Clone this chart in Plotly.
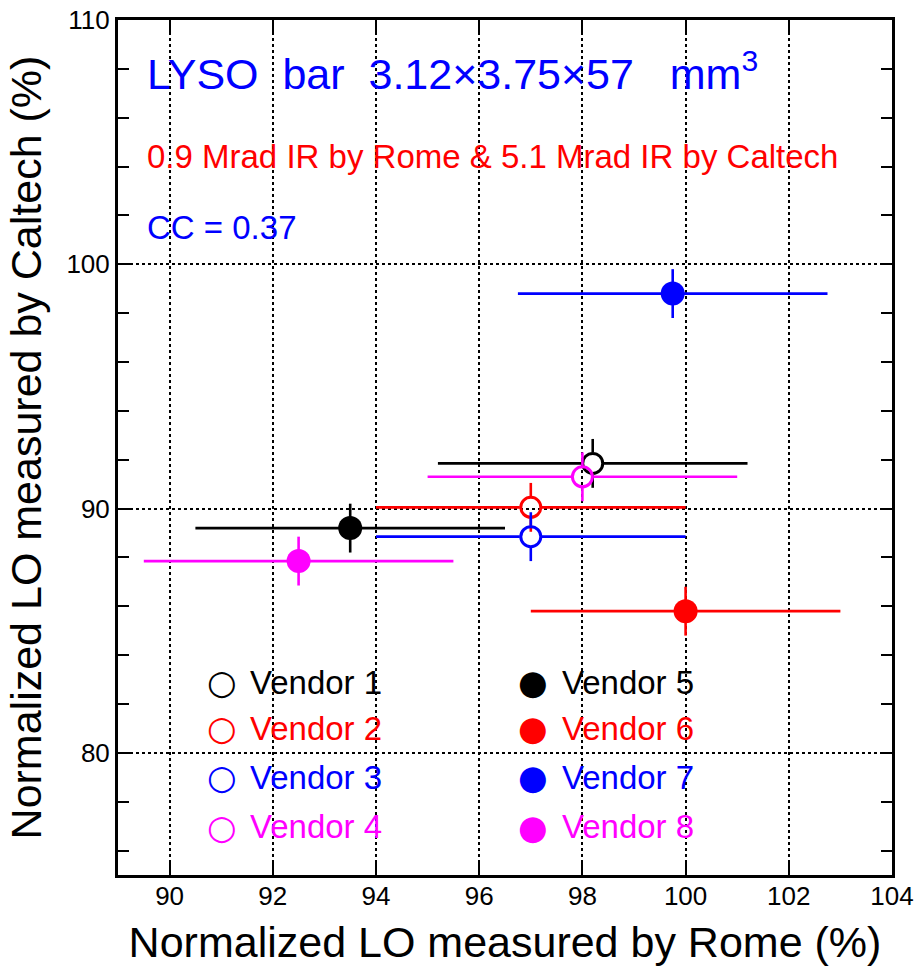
import plotly.graph_objects as go

# ---------------- data ----------------
vendors = ["Vendor 1", "Vendor 2", "Vendor 3", "Vendor 4",
           "Vendor 5", "Vendor 6", "Vendor 7", "Vendor 8"]
rome_lo = [98.2, 97.0, 97.0, 98.0, 93.5, 100.0, 99.75, 92.5]
caltech_lo = [91.85, 90.05, 88.85, 91.3, 89.2, 85.8, 98.8, 87.85]
rome_err = [3.0, 3.0, 3.0, 3.0, 3.0, 3.0, 3.0, 3.0]
caltech_err = [1.0, 1.0, 1.0, 1.0, 1.0, 1.0, 1.0, 1.0]
vendor_colors = ["#000000", "#ff0000", "#0000ff", "#ff00ff",
                 "#000000", "#ff0000", "#0000ff", "#ff00ff"]
vendor_filled = [False, False, False, False, True, True, True, True]

x_ticks = [90, 92, 94, 96, 98, 100, 102, 104]
y_ticks = [80, 90, 100, 110]

title_text = "LYSO  bar  3.12×3.75×57   mm<sup>3</sup>"
dose_text = "0.9 Mrad IR by Rome &amp; 5.1 Mrad IR by Caltech"
cc_text = "CC = 0.37"
x_title = "Normalized LO measured by Rome (%)"
y_title = "Normalized LO measured by Caltech (%)"

# ---------------- layout constants ----------------
W, H = 914, 966
ML, MR, MT, MB = 118, 22, 20, 91
X_RANGE = [89, 104]
Y_RANGE = [75, 110]
FONT = "Liberation Sans, Arial, sans-serif"
SYM_FONT = "DejaVu Sans, sans-serif"
MARKER_R_PX = 11.0  # radius where error bar stops (open markers)

px_per_x = (W - ML - MR) / (X_RANGE[1] - X_RANGE[0])
px_per_y = (H - MT - MB) / (Y_RANGE[1] - Y_RANGE[0])
gap_x = MARKER_R_PX / px_per_x
gap_y = MARKER_R_PX / px_per_y

fig = go.Figure()

for name, x, y, ex, ey, col, filled in zip(vendors, rome_lo, caltech_lo,
                                            rome_err, caltech_err,
                                            vendor_colors, vendor_filled):
    # error bars, drawn as segments that stop at the marker edge
    bx = [x - ex, x - gap_x, None, x + gap_x, x + ex, None,
          x, x, None, x, x]
    by = [y, y, None, y, y, None,
          y - ey, y - gap_y, None, y + gap_y, y + ey]
    fig.add_trace(go.Scatter(x=bx, y=by, mode="lines",
                             line=dict(color=col, width=2.6),
                             showlegend=False, hoverinfo="skip"))
    if filled:
        marker = dict(symbol="circle", size=24, color=col,
                      line=dict(width=0))
    else:
        marker = dict(symbol="circle-open", size=20, color=col,
                      line=dict(width=3, color=col))
    fig.add_trace(go.Scatter(x=[x], y=[y], mode="markers", name=name,
                             marker=marker, showlegend=False))

# ---------------- legend (two columns of text) ----------------
leg_sym_x = [91.02, 97.04]
leg_txt_x = [91.52, 97.57]
leg_row_y = [82.9, 81.0, 79.0, 76.97]
for i, (name, col, filled) in enumerate(zip(vendors, vendor_colors, vendor_filled)):
    c = 1 if filled else 0
    r = i % 4
    fig.add_annotation(x=leg_sym_x[c], y=leg_row_y[r], xref="x", yref="y",
                       text="●" if filled else "○", showarrow=False,
                       xanchor="center", yanchor="middle",
                       font=dict(family=SYM_FONT, size=34, color=col))
    fig.add_annotation(x=leg_txt_x[c], y=leg_row_y[r], xref="x", yref="y",
                       text=name, showarrow=False,
                       xanchor="left", yanchor="middle",
                       font=dict(family=FONT, size=33, color=col))

# ---------------- text labels ----------------
fig.add_annotation(x=0.035, y=0.940, xref="paper", yref="paper",
                   text=title_text, showarrow=False,
                   xanchor="left", yanchor="middle",
                   font=dict(family=FONT, size=43, color="#0000ff"))
fig.add_annotation(x=0.035, y=0.840, xref="paper", yref="paper",
                   text=dose_text, showarrow=False,
                   xanchor="left", yanchor="middle",
                   font=dict(family=FONT, size=33, color="#ff0000"))
fig.add_annotation(x=0.035, y=0.757, xref="paper", yref="paper",
                   text=cc_text, showarrow=False,
                   xanchor="left", yanchor="middle",
                   font=dict(family=FONT, size=33, color="#0000ff"))

axis_common = dict(
    showline=True, linewidth=3, linecolor="black", mirror="ticks",
    ticks="inside", ticklen=12, tickwidth=2, tickcolor="black",
    showgrid=True, gridcolor="black", griddash="dot", gridwidth=1.5,
    zeroline=False, tickfont=dict(family=FONT, size=26, color="black"),
)

fig.update_xaxes(range=X_RANGE, tickvals=x_ticks, ticklabelstandoff=-4,
                 title=dict(text=x_title, standoff=18,
                            font=dict(family=FONT, size=43, color="black")),
                 **axis_common)
fig.update_yaxes(range=Y_RANGE, tickvals=y_ticks,
                 minor=dict(dtick=2, tick0=0, ticks="inside", ticklen=11,
                            tickwidth=2, tickcolor="black", showgrid=False),
                 title=dict(text=y_title, standoff=12,
                            font=dict(family=FONT, size=43, color="black")),
                 **axis_common)

fig.update_layout(width=W, height=H,
                  margin=dict(l=ML, r=MR, t=MT, b=MB, autoexpand=False),
                  paper_bgcolor="white", plot_bgcolor="white",
                  showlegend=False, font=dict(family=FONT))

fig.write_html("out.html",
               config={"displayModeBar": False},
               post_script="document.body.style.margin='0';"
                           "document.body.style.overflow='hidden';")
